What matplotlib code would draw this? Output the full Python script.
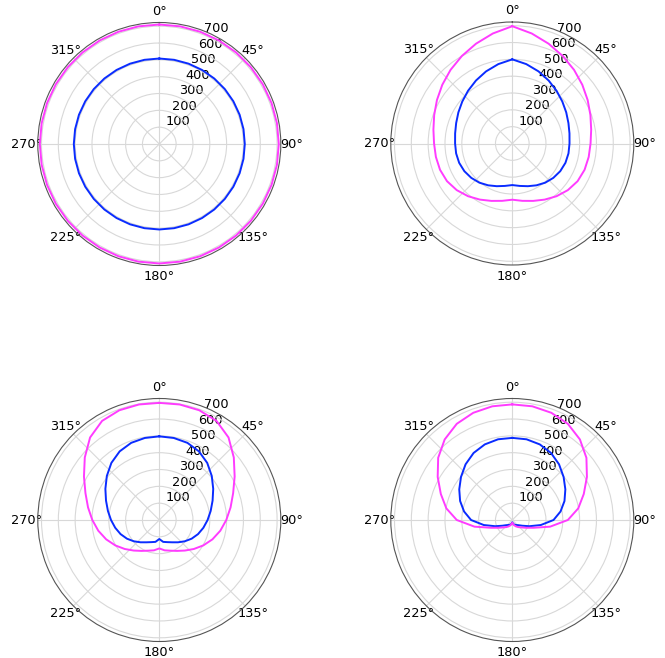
import numpy as np
import matplotlib
matplotlib.use("Agg")
import matplotlib.pyplot as plt

# angles (degrees) for one half of each pattern; patterns are mirror-symmetric
theta_half_deg = [0, 10, 20, 30, 40, 50, 60, 70, 80, 90,
                  100, 110, 120, 130, 140, 150, 160, 170, 180]

# panel 1 (omnidirectional)
p1_blue = [508] * 19
p1_pink = [710] * 19

# panel 2
p2_blue = [500, 479, 456, 432, 409, 388, 370, 355, 345, 340,
           339, 336, 329, 318, 304, 287, 270, 256, 247]
p2_pink = [697, 664, 631, 600, 571, 543, 517, 494, 476, 465,
           461, 457, 448, 431, 409, 385, 363, 346, 334]

# panel 3
p3_blue = [497, 495, 488, 471, 443, 407, 370, 337, 310, 287,
           266, 245, 222, 197, 173, 153, 140, 132, 113]
p3_pink = [696, 697, 694, 680, 640, 578, 517, 467, 430, 398,
           368, 336, 302, 268, 237, 212, 194, 183, 169]

# panel 4
p4_blue = [488, 487, 478, 460, 432, 398, 364, 330, 291, 245,
           172, 108, 68, 48, 39, 33, 28, 22, 14]
p4_pink = [687, 686, 678, 660, 625, 575, 512, 452, 398, 330,
           228, 135, 92, 68, 55, 44, 34, 24, 16]

r_ticks = [100, 200, 300, 400, 500, 600, 700]
theta_tick_labels = ['0°', '45°', '90°', '135°', '180°', '225°', '270°', '315°']

panels = [(p1_blue, p1_pink), (p2_blue, p2_pink), (p3_blue, p3_pink), (p4_blue, p4_pink)]

W, H = 665, 658
fig = plt.figure(figsize=(W / 100, H / 100), dpi=100)

side = 243
centers = [(159.3, 144), (512.3, 143.5), (159.3, 520), (512.3, 520)]

th_half = np.deg2rad(theta_half_deg)
th_full = np.concatenate([th_half, 2 * np.pi - th_half[-2::-1]])

def mirror(v):
    v = list(v)
    return v + v[-2::-1]

FS = 9.3
for (cx, cy), (blue, pink) in zip(centers, panels):
    left = (cx - side / 2) / W
    bottom = (H - (cy + side / 2)) / H
    ax = fig.add_axes([left, bottom, side / W, side / H], projection='polar')
    ax.set_theta_zero_location('N')
    ax.set_theta_direction(-1)
    ax.plot(th_full, mirror(blue), color='#0a2cff', lw=1.4)
    ax.plot(th_full, mirror(pink), color='#ff3cff', lw=1.4)
    ax.set_ylim(0, 722)
    ax.set_rticks(r_ticks)
    ax.set_yticklabels([str(t) for t in r_ticks], fontsize=FS)
    ax.set_rlabel_position(22.5)
    ax.set_thetagrids(np.arange(0, 360, 45), labels=theta_tick_labels, fontsize=FS)
    ax.tick_params(axis='x', pad=-2.5)
    ax.grid(True, color='#d8d8d8', lw=0.8)
    ax.spines['polar'].set_color('#555555')
    ax.spines['polar'].set_linewidth(0.8)

fig.savefig('out.png', dpi=100)
